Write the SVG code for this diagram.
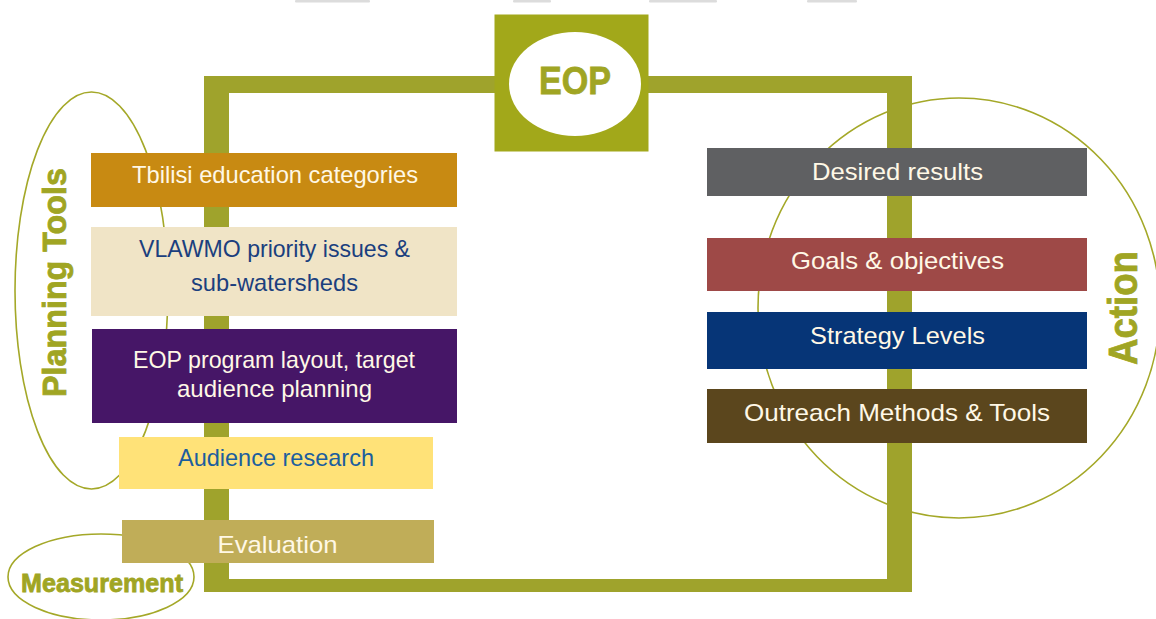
<svg xmlns="http://www.w3.org/2000/svg" width="1156" height="619" viewBox="0 0 1156 619">
<style>
.t{font-family:"Liberation Sans",Arial,sans-serif;font-size:24px;text-anchor:middle;fill:#FFF8E6}
.lbl{font-family:"Liberation Sans",Arial,sans-serif;font-weight:bold;fill:#A0A523;stroke:#A0A523;stroke-width:0.8;text-anchor:middle}
.ring{fill:none;stroke:#A4A828;stroke-width:1.6}
.gray{fill:#DCDCDC}
</style>
<rect width="1156" height="619" fill="#FFFFFF"/>
<g id="top-marks">
<rect class="gray" x="295" y="0" width="75" height="2.5" rx="1"/>
<rect class="gray" x="513" y="0" width="38" height="2.5" rx="1"/>
<rect class="gray" x="649" y="0" width="68" height="2.5" rx="1"/>
<rect class="gray" x="807" y="0" width="50" height="2.5" rx="1"/>
</g>
<g id="planning-tools">
<ellipse class="ring" cx="91.5" cy="290.5" rx="76.5" ry="198.5"/>
<text class="lbl" font-size="34" transform="translate(66,282.5) rotate(-90)" textLength="229" lengthAdjust="spacingAndGlyphs">Planning Tools</text>
</g>
<g id="measurement">
<ellipse class="ring" cx="101" cy="577" rx="93" ry="43"/>
<text class="lbl" font-size="25" x="102" y="592" textLength="162" lengthAdjust="spacingAndGlyphs">Measurement</text>
</g>
<g id="action">
<ellipse class="ring" cx="959" cy="308" rx="201" ry="210"/>
<text class="lbl" font-size="40" transform="translate(1137,308) rotate(-90)" textLength="114" lengthAdjust="spacingAndGlyphs">Action</text>
</g>
<g id="connectors">
<path d="M204,76 H912 V592 H204 Z M229,93 V579 H887 V93 Z" fill="#9FA32C" fill-rule="evenodd"/>
</g>
<g id="eop">
<rect x="494.5" y="14.5" width="154" height="137" fill="#A2A81A"/>
<ellipse cx="575" cy="84" rx="66" ry="52" fill="#FFFFFF"/>
<text class="lbl" font-size="39" x="575" y="94" textLength="72" lengthAdjust="spacingAndGlyphs">EOP</text>
</g>
<g id="tbilisi">
<rect x="91" y="153" width="366" height="54" fill="#C88A12"/>
<text class="t" x="275" y="183" textLength="286" lengthAdjust="spacingAndGlyphs">Tbilisi education categories</text>
</g>
<g id="vlawmo">
<rect x="91" y="227" width="366" height="89" fill="#F0E4C6"/>
<text class="t" x="274.5" y="257" style="fill:#1B3F7E" textLength="271" lengthAdjust="spacingAndGlyphs">VLAWMO priority issues &amp;</text>
<text class="t" x="274.5" y="291" style="fill:#1B3F7E" textLength="167" lengthAdjust="spacingAndGlyphs">sub-watersheds</text>
</g>
<g id="eop-program">
<rect x="92" y="329" width="365" height="94" fill="#461667"/>
<text class="t" x="274" y="368" textLength="282" lengthAdjust="spacingAndGlyphs">EOP program layout, target</text>
<text class="t" x="274.5" y="397" textLength="195" lengthAdjust="spacingAndGlyphs">audience planning</text>
</g>
<g id="audience-research">
<rect x="119" y="437" width="314" height="52" fill="#FFE278"/>
<text class="t" x="276" y="466" style="fill:#1C5E9E" textLength="196" lengthAdjust="spacingAndGlyphs">Audience research</text>
</g>
<g id="evaluation">
<rect x="122" y="520" width="312" height="43" fill="#C0AD58"/>
<text class="t" x="277.5" y="553" textLength="120" lengthAdjust="spacingAndGlyphs">Evaluation</text>
</g>
<g id="desired-results">
<rect x="707" y="148" width="380" height="48" fill="#5F6062"/>
<text class="t" x="897.5" y="180" textLength="171" lengthAdjust="spacingAndGlyphs">Desired results</text>
</g>
<g id="goals">
<rect x="707" y="238" width="380" height="53" fill="#9E4947"/>
<text class="t" x="897.5" y="269" textLength="213" lengthAdjust="spacingAndGlyphs">Goals &amp; objectives</text>
</g>
<g id="strategy">
<rect x="707" y="312" width="380" height="57" fill="#063577"/>
<text class="t" x="897.5" y="344" textLength="175" lengthAdjust="spacingAndGlyphs">Strategy Levels</text>
</g>
<g id="outreach">
<rect x="707" y="389" width="380" height="54" fill="#5B461D"/>
<text class="t" x="897" y="421" textLength="306" lengthAdjust="spacingAndGlyphs">Outreach Methods &amp; Tools</text>
</g>
</svg>
